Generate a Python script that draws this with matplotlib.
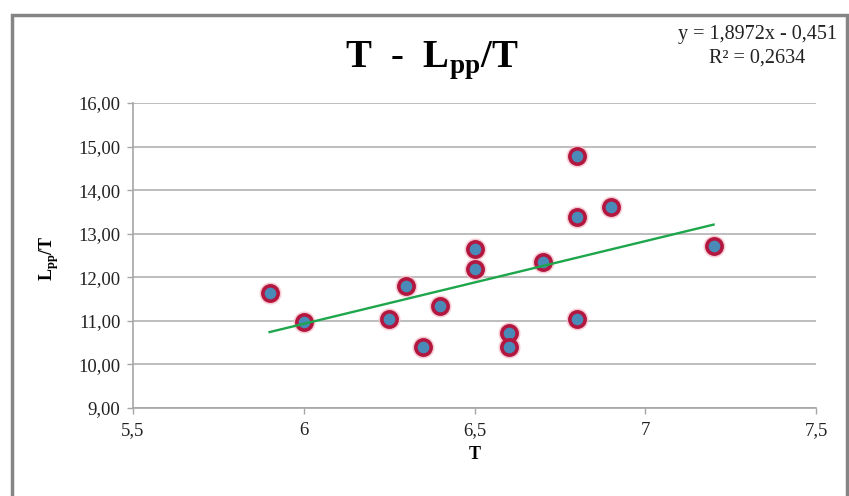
import numpy as np
import matplotlib
matplotlib.use("Agg")
import matplotlib.pyplot as plt
from matplotlib.patches import Rectangle

plt.rcParams['font.family'] = ['Liberation Serif', 'DejaVu Serif']
plt.rcParams['mathtext.fontset'] = 'custom'
plt.rcParams['mathtext.rm'] = 'Liberation Serif'
plt.rcParams['mathtext.bf'] = 'Liberation Serif:bold'

# data
T = [5.9, 6.0, 6.25, 6.3, 6.35, 6.4, 6.5, 6.5, 6.6, 6.6, 6.7, 6.8, 6.8, 6.8, 6.9, 7.2]
Lpp_T = [11.63, 10.98, 11.04, 11.81, 10.40, 11.34, 12.66, 12.19, 10.73, 10.41,
         12.34, 14.79, 13.38, 11.05, 13.61, 12.72]
slope, intercept = 1.8972, -0.451   # trendline from the chart label
r2 = 0.2634
xticks = [5.5, 6, 6.5, 7, 7.5]
yticks = [9, 10, 11, 12, 13, 14, 15, 16]

fig = plt.figure(figsize=(8.49, 4.96), dpi=100)
W, H = 849, 496
ax = fig.add_axes([133 / W, 1 - 408 / H, (816 - 133) / W, (408 - 103) / H])

# outer chart frame
fig.patches.append(Rectangle((12 / W, -0.1), (847 - 12) / W, 1.1 - 15 / H,
                             transform=fig.transFigure, fill=False,
                             edgecolor='#858585', linewidth=2.5))

ax.set_xlim(5.5, 7.5)
ax.set_ylim(9, 16)
ax.set_xticks(xticks)
ax.set_yticks(yticks)
ax.set_xticklabels([('%g' % v).replace('.', ',') for v in xticks])
ax.set_yticklabels([('%.2f' % v).replace('.', ',') for v in yticks])
ax.grid(axis='y', color='#BDBDBD', linewidth=1.4)
ax.set_axisbelow(True)
for s in ['top', 'right']:
    ax.spines[s].set_visible(False)
for s in ['left', 'bottom']:
    ax.spines[s].set_color('#A6A6A6')
    ax.spines[s].set_linewidth(1.2)
ax.tick_params(colors='#A6A6A6', length=4, width=1, labelcolor='#222222',
               labelsize=13.5)
ax.tick_params(axis='y', pad=5)
ax.tick_params(axis='x', pad=6)

# points: pink halo, crimson ring, blue centre
ax.plot(T, Lpp_T, 'o', ms=15, color='#F6C2CC', alpha=0.7, zorder=3)
ax.plot(T, Lpp_T, 'o', ms=11, mfc='#4A8AB8', mec='#B3173F', mew=2.6, zorder=4)

xt = np.array([min(T), max(T)])
ax.plot(xt, slope * xt + intercept, color='#1DA64C', linewidth=1.7, zorder=5)

ax.set_xlabel('T', fontsize=13, fontweight='bold', labelpad=5)
fig.text(49 / W, 1 - 258 / H, r'L$_{\mathbf{pp}}$/T', rotation=90, fontsize=13,
         fontweight='bold', ha='center', va='center')

fig.text(432 / W, 1 - 67 / H, r'T  -  L$_{\mathbf{pp}}$/T', fontsize=28,
         fontweight='bold', ha='center', va='baseline')

fig.text(757 / W, 1 - 35 / H, 'y = 1,8972x - 0,451', fontsize=14.5,
         ha='center', va='center', color='#222222')
fig.text(757 / W, 1 - 58 / H, 'R² = ' + ('%.4f' % r2).replace('.', ','),
         fontsize=14.5, ha='center', va='center', color='#222222')

fig.savefig('out.png', dpi=100)
